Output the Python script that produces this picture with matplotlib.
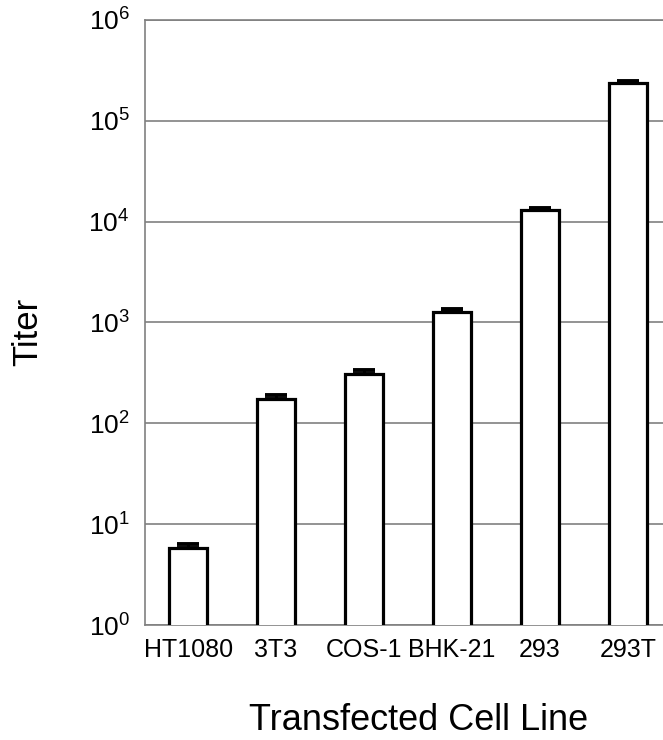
import numpy as np
import matplotlib
matplotlib.use("Agg")
import matplotlib.pyplot as plt

cell_lines = ["HT1080", "3T3", "COS-1", "BHK-21", "293", "293T"]
titer = [5.8, 173, 308, 1262, 13060, 239000]
titer_err = [0.5, 18, 30, 90, 700, 11000]

plt.rcParams['font.family'] = ['Liberation Sans', 'DejaVu Sans']
plt.rcParams['mathtext.default'] = 'regular'

fig = plt.figure(figsize=(6.63, 7.4), dpi=100)
ax = fig.add_axes([0.2187, 0.1554, 0.7813, 0.8176])

x = np.arange(len(cell_lines))
ax.bar(x, titer, width=0.43, color='white', edgecolor='black', linewidth=2.3, zorder=3)
ax.errorbar(x, titer, yerr=[np.zeros(len(titer)), titer_err], fmt='none',
            ecolor='black', elinewidth=2.2, capsize=8, capthick=2.8, zorder=4)

ax.set_yscale('log')
ax.set_ylim(1, 1e6)
ax.set_xlim(-0.49, 5.40)
ax.set_yticks([1, 10, 100, 1e3, 1e4, 1e5, 1e6])
ax.yaxis.set_minor_locator(matplotlib.ticker.NullLocator())
ax.set_xticks(x)
ax.set_xticklabels(cell_lines)
ax.tick_params(axis='x', length=0, labelsize=18, pad=9)
ax.tick_params(axis='y', length=0, labelsize=19, pad=11)

ax.grid(axis='y', color='#808080', linewidth=1.2, zorder=0)
ax.set_axisbelow(True)
for side in ['left', 'bottom', 'top']:
    ax.spines[side].set_color('#808080')
    ax.spines[side].set_linewidth(1.2)
ax.spines['right'].set_visible(False)

fig.text(0.042, 0.551, "Titer", rotation=90, fontsize=25, ha='center', va='center')
fig.text(0.632, 0.003, "Transfected Cell Line", fontsize=26, ha='center', va='bottom')

fig.savefig("out.png", dpi=100)
